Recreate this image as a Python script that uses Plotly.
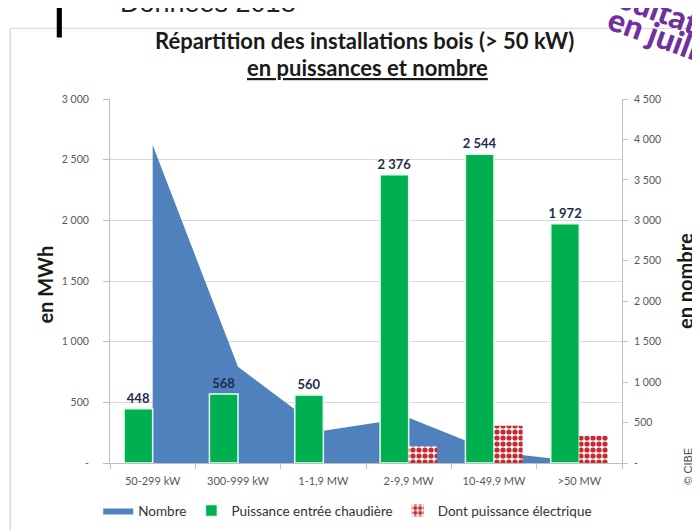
import plotly.graph_objects as go

categories = ['50-299 kW', '300-999 kW', '1-1,9 MW', '2-9,9 MW', '10-49,9 MW', '>50 MW']
nombre = [3930, 1190, 400, 560, 135, 20]
puissance_chaudiere = [448, 568, 560, 2376, 2544, 1972]
puissance_electrique = [0, 0, 0, 138, 307, 225]

ticks_mwh = [0, 500, 1000, 1500, 2000, 2500, 3000]
ticks_mwh_txt = ['-', '500', '1 000', '1 500', '2 000', '2 500', '3 000']
ticks_nb = [0, 500, 1000, 1500, 2000, 2500, 3000, 3500, 4000, 4500]
ticks_nb_txt = ['-', '500', '1 000', '1 500', '2 000', '2 500', '3 000', '3 500', '4 000', '4 500']

FONT = 'Lato'
GRIS = '#595959'

fig = go.Figure()

# aire "Nombre" sur l'axe principal (dessiné en dessous des barres)
fig.add_trace(go.Scatter(
    x=categories, y=nombre, name='Nombre',
    mode='lines', line=dict(width=0, color='#4f81bd'),
    fill='tozeroy', fillcolor='#4f81bd',
    yaxis='y'
))

fig.add_trace(go.Bar(
    x=categories, y=puissance_chaudiere, name='Puissance entrée chaudière',
    marker=dict(color='#00b050', line=dict(color='#e8fff0', width=1.5)),
    texttemplate='%{y:,}', textposition='outside', cliponaxis=False,
    constraintext='none',
    textfont=dict(family=FONT, size=13, color='#1f2d4d', weight='bold'),
    yaxis='y2'
))

fig.add_trace(go.Bar(
    x=categories, y=puissance_electrique, name='Dont puissance électrique',
    marker=dict(color='white', line=dict(width=0),
                pattern=dict(shape='.', fgcolor='#c62a33', bgcolor='white',
                             fgopacity=1, size=6, solidity=0.6)),
    yaxis='y2'
))

# la page ajoute une marge de 8 px : marges décalées en conséquence
fig.update_layout(
    width=700, height=530,
    margin=dict(l=102, r=86, t=91, b=73),
    paper_bgcolor='white', plot_bgcolor='white',
    separators=', ',
    barmode='group', bargap=0.33, bargroupgap=0,
    font=dict(family=FONT, color=GRIS),
    showlegend=True,
    legend=dict(orientation='h', x=-0.023, y=-0.131, xanchor='left', yanchor='middle',
                font=dict(size=13.5, color='#333333'), itemwidth=30,
                traceorder='normal'),
    xaxis=dict(type='category', tickson='boundaries', ticks='outside', ticklen=5,
               tickcolor='#bfbfbf', showline=True, linecolor='#bfbfbf',
               tickfont=dict(size=11, color=GRIS), showgrid=False,
               ticklabelstandoff=8),
    yaxis=dict(side='right', range=[0, 4500], tickvals=ticks_nb, ticktext=ticks_nb_txt,
               showgrid=False, showline=True, linecolor='#bfbfbf', ticks='outside',
               ticklen=5, tickcolor='#bfbfbf', tickfont=dict(size=10.5, color=GRIS),
               ticklabelstandoff=4, zeroline=False),
    yaxis2=dict(side='left', overlaying='y', range=[0, 3000], tickvals=ticks_mwh,
                ticktext=ticks_mwh_txt, showgrid=True, gridcolor='#d9d9d9',
                showline=True, linecolor='#bfbfbf', ticks='outside', ticklen=6,
                tickcolor='#bfbfbf', tickfont=dict(size=10.5, color=GRIS),
                ticklabelstandoff=12, zeroline=False),
)

ann = [
    dict(text='<b>Répartition des installations bois (> 50 kW)</b>', x=0.498, y=1.161,
         font=dict(size=22, color='#1a1a1a')),
    dict(text='<b><u>en puissances et nombre</u></b>', x=0.502, y=1.087,
         font=dict(size=22, color='#1a1a1a')),
    dict(text='<b>en MWh</b>', x=-0.127, y=0.49, textangle=-90,
         font=dict(size=20, color='#1a1a1a')),
    dict(text='<b>en nombre</b>', x=1.123, y=0.5, textangle=-90,
         font=dict(size=20, color='#1a1a1a')),
    dict(text='© CIBE', x=1.129, y=-0.01, textangle=-90,
         font=dict(family='Liberation Sans', size=11, color='#444444')),
    dict(text='Données 2018', x=0.0156, y=1.216, xanchor='left', yanchor='bottom',
         font=dict(family='Liberation Sans', size=27, color='#222222')),
    dict(text='Résultats', x=1.052, y=1.256, textangle=20,
         font=dict(size=32, color='#7030a0', weight=900)),
    dict(text='en juillet', x=1.088, y=1.168, textangle=20,
         font=dict(size=32, color='#7030a0', weight=900)),
]
for a in ann:
    a.setdefault('xanchor', 'center')
    a.setdefault('yanchor', 'middle')
    fig.add_annotation(xref='paper', yref='paper', showarrow=False, **a)

# cadre gris clair et trait noir du haut
fig.add_shape(type='line', xref='paper', yref='paper', x0=-0.195, x1=1.2,
              y0=1.194, y1=1.194, line=dict(color='#d6d6d6', width=1))
fig.add_shape(type='line', xref='paper', yref='paper', x0=-0.195, x1=-0.195,
              y0=1.194, y1=-0.2, line=dict(color='#d6d6d6', width=1.5))
fig.add_shape(type='rect', xref='paper', yref='paper', x0=-0.104, x1=-0.094,
              y0=1.169, y1=1.3, fillcolor='black', line=dict(width=0))

fig.write_html('out.html')
